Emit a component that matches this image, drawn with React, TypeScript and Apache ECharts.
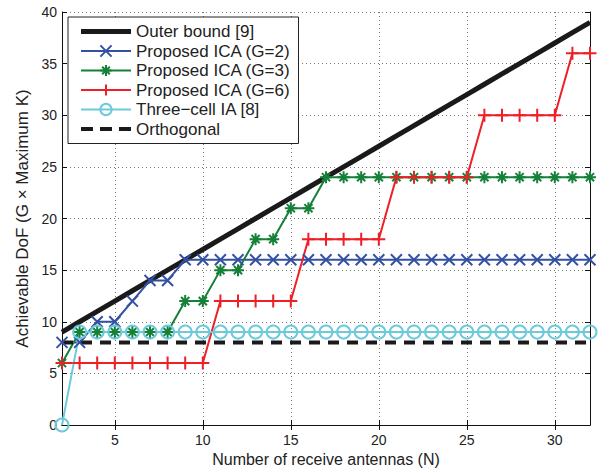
import React, { useEffect, useRef } from "react";
import * as echarts from "echarts";

const antennas = [2, 3, 4, 5, 6, 7, 8, 9, 10, 11, 12, 13, 14, 15, 16, 17, 18, 19, 20, 21, 22, 23, 24, 25, 26, 27, 28, 29, 30, 31, 32];
const outerBound = [9, 10, 11, 12, 13, 14, 15, 16, 17, 18, 19, 20, 21, 22, 23, 24, 25, 26, 27, 28, 29, 30, 31, 32, 33, 34, 35, 36, 37, 38, 39];
const icaG2 = [8, 8, 10, 10, 12, 14, 14, 16, 16, 16, 16, 16, 16, 16, 16, 16, 16, 16, 16, 16, 16, 16, 16, 16, 16, 16, 16, 16, 16, 16, 16];
const icaG3 = [6, 9, 9, 9, 9, 9, 9, 12, 12, 15, 15, 18, 18, 21, 21, 24, 24, 24, 24, 24, 24, 24, 24, 24, 24, 24, 24, 24, 24, 24, 24];
const icaG6 = [6, 6, 6, 6, 6, 6, 6, 6, 6, 12, 12, 12, 12, 12, 18, 18, 18, 18, 18, 24, 24, 24, 24, 24, 30, 30, 30, 30, 30, 36, 36];
const threeCellIA = [0, 9, 9, 9, 9, 9, 9, 9, 9, 9, 9, 9, 9, 9, 9, 9, 9, 9, 9, 9, 9, 9, 9, 9, 9, 9, 9, 9, 9, 9, 9];
const orthogonal = [8, 8, 8, 8, 8, 8, 8, 8, 8, 8, 8, 8, 8, 8, 8, 8, 8, 8, 8, 8, 8, 8, 8, 8, 8, 8, 8, 8, 8, 8, 8];

const seriesNames = [
  "Outer bound [9]",
  "Proposed ICA (G=2)",
  "Proposed ICA (G=3)",
  "Proposed ICA (G=6)",
  "Three\u2212cell IA [8]",
  "Orthogonal",
];
const xTickValues = [5, 10, 15, 20, 25, 30];

const FONT = "'Liberation Sans', Arial, Helvetica, sans-serif";
const TXT = "#222";

const pairs = (vals: number[]) => antennas.map((n, i) => [n, vals[i]]);

const X_SYM = "path://M0,0L10,10M10,0L0,10";
const STAR_SYM = "path://M5,0L5,10M0,5L10,5M1.6,1.6L8.4,8.4M8.4,1.6L1.6,8.4";
const PLUS_SYM = "path://M5,0L5,10M0,5L10,5";
const THICK_ICON = "path://M0,0H50V5H0Z";
const DASH_ICON = "path://M0,0H12V4H0ZM19,0H31V4H19ZM38,0H50V4H38Z";

export default function App() {
  const ref = useRef<HTMLDivElement>(null);
  useEffect(() => {
    if (!ref.current) return;
    const chart = echarts.init(ref.current, undefined, { renderer: "svg" });
    const blue = "#3350a2";
    const green = "#148038";
    const red = "#ee1f26";
    const cyan = "#6ccadc";
    const black = "#1a1a1a";
    const markerSeries = (name: string, vals: number[], color: string, symbol: string, size: number) => ({
      type: "line",
      name,
      data: pairs(vals),
      symbol,
      symbolSize: size,
      showSymbol: true,
      lineStyle: { color, width: 2 },
      itemStyle: { color: "none", borderColor: color, borderWidth: 2 },
      emphasis: { disabled: true },
    });
    chart.setOption({
      animation: false,
      grid: { left: 62, right: 21, top: 12, bottom: 48 },
      legend: {
        orient: "vertical",
        left: 68,
        top: 17,
        backgroundColor: "#fff",
        borderColor: "#222",
        borderWidth: 1,
        borderRadius: 0,
        padding: [6, 8, 6, 12],
        itemWidth: 50,
        itemHeight: 14,
        itemGap: 2.5,
        textStyle: { fontFamily: FONT, fontSize: 17, color: TXT, lineHeight: 16 },
        data: [
          { name: seriesNames[0], icon: THICK_ICON },
          { name: seriesNames[1] },
          { name: seriesNames[2] },
          { name: seriesNames[3] },
          { name: seriesNames[4] },
          { name: seriesNames[5], icon: DASH_ICON },
        ],
        selectedMode: false,
      },
      xAxis: [
        {
          type: "value",
          min: 2,
          max: 32,
          name: "Number of receive antennas (N)",
          nameLocation: "middle",
          nameGap: 26,
          nameTextStyle: { fontFamily: FONT, fontSize: 16, color: TXT },
          axisLine: { show: true, lineStyle: { color: "#111", width: 1 } },
          axisTick: { show: true, inside: true, length: 5, customValues: xTickValues, lineStyle: { color: "#111" } },
          axisLabel: { customValues: xTickValues, margin: 8, fontFamily: FONT, fontSize: 14, color: TXT },
          splitLine: { show: true, lineStyle: { color: "#777", type: [1, 3], width: 1 } },
        },
        {
          type: "value",
          position: "top",
          min: 2,
          max: 32,
          axisLine: { show: true, lineStyle: { color: "#111", width: 1 } },
          axisTick: { show: true, inside: true, length: 5, customValues: xTickValues, lineStyle: { color: "#111" } },
          axisLabel: { show: false },
          splitLine: { show: false },
        },
      ],
      yAxis: [
        {
          type: "value",
          min: 0,
          max: 40,
          interval: 5,
          name: "Achievable DoF (G \u00d7 Maximum K)",
          nameLocation: "middle",
          nameGap: 27,
          nameTextStyle: { fontFamily: FONT, fontSize: 17, color: TXT },
          axisLine: { show: true, lineStyle: { color: "#111", width: 1 } },
          axisTick: { show: true, inside: true, length: 5, lineStyle: { color: "#111" } },
          axisLabel: { margin: 5, fontFamily: FONT, fontSize: 14, color: TXT },
          splitLine: { show: true, lineStyle: { color: "#777", type: [1, 3], width: 1 } },
        },
        {
          type: "value",
          position: "right",
          min: 0,
          max: 40,
          interval: 5,
          axisLine: { show: true, lineStyle: { color: "#111", width: 1 } },
          axisTick: { show: true, inside: true, length: 5, lineStyle: { color: "#111" } },
          axisLabel: { show: false },
          splitLine: { show: false },
        },
      ],
      series: [
        {
          type: "line",
          name: seriesNames[0],
          data: pairs(outerBound),
          symbol: "none",
          lineStyle: { color: black, width: 5 },
          itemStyle: { color: black },
          emphasis: { disabled: true },
        },
        markerSeries(seriesNames[1], icaG2, blue, X_SYM, 11),
        markerSeries(seriesNames[2], icaG3, green, STAR_SYM, 12),
        markerSeries(seriesNames[3], icaG6, red, PLUS_SYM, 13),
        markerSeries(seriesNames[4], threeCellIA, cyan, "circle", 13),
        {
          type: "line",
          name: seriesNames[5],
          data: pairs(orthogonal),
          symbol: "none",
          lineStyle: { color: black, width: 4, type: [11, 8] },
          itemStyle: { color: black },
          emphasis: { disabled: true },
        },
      ],
    });
    return () => chart.dispose();
  }, []);
  return (
    <div
      ref={ref}
      style={{ position: "fixed", left: 0, top: 0, width: 611, height: 473, background: "#fff" }}
    />
  );
}
